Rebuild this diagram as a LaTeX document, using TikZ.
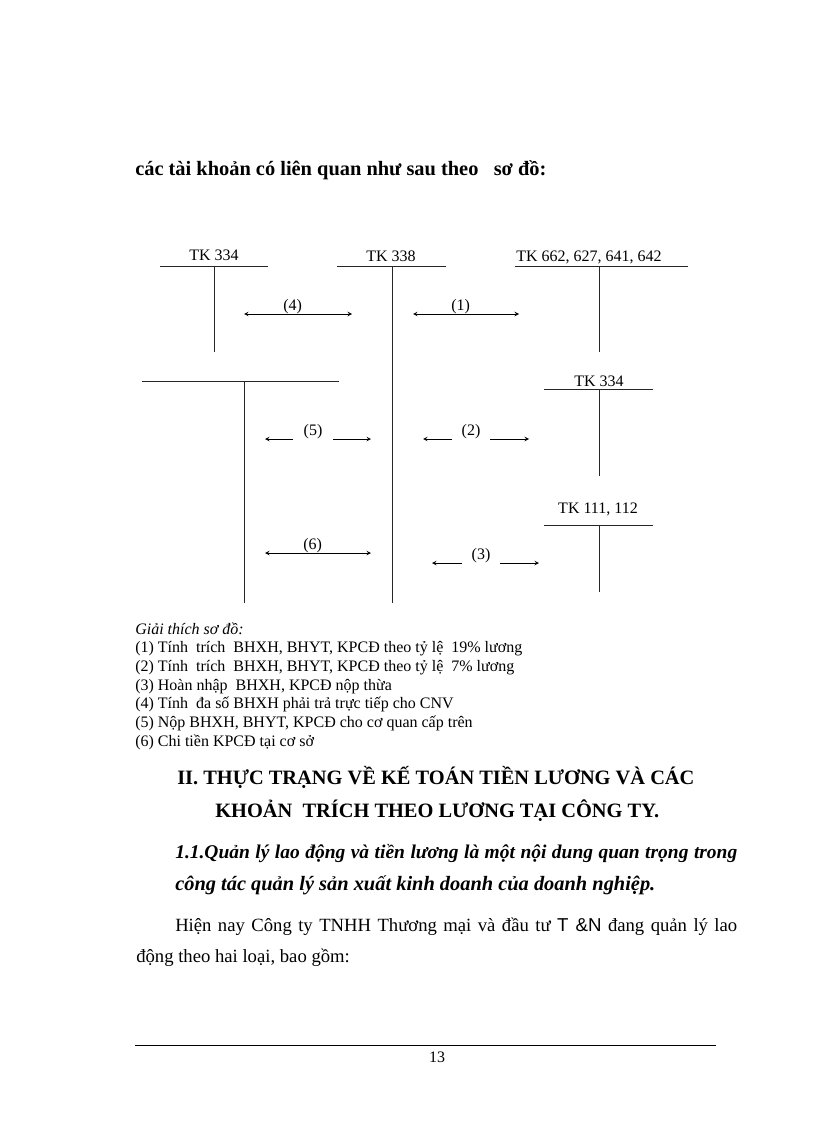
\documentclass[tikz,border=0pt]{standalone}
\usepackage{fontspec}
\setmainfont{Liberation Serif}
\newfontfamily\arialfont{Liberation Sans}
\usetikzlibrary{positioning, arrows}
\tikzset{
    >=stealth, % small arrow heads
    tkline/.style={line width=0.6pt, black!85}, % lines of the T accounts
    flow/.style={line width=0.5pt}, % entries between accounts
    tkname/.style={font=\fontsize{12}{14}\selectfont, anchor=base, inner sep=0pt},
    num/.style={font=\fontsize{12}{14}\selectfont, inner sep=0pt},
    bodytext/.style={font=\fontsize{14}{17}\selectfont, anchor=base west, inner sep=0pt},
    boldtext/.style={font=\fontsize{15.3}{18}\selectfont\bfseries, anchor=base west, inner sep=0pt},
    legend/.style={font=\fontsize{12}{14}\selectfont, anchor=base west, inner sep=0pt},
}

\begin{document}
\begin{tikzpicture}[x=0.75pt, y=-0.75pt]
        \useasboundingbox (0,0) rectangle (816,1123);
        % Title
        \node[boldtext] (title) at (135,176) {các tài khoản có liên quan như sau theo \ \ sơ đồ:};

        % T accounts
        \node[tkname] (tkA) at (214,260) {TK 334};
        \node[tkname] (tkB) at (391,261) {TK 338};
        \node[tkname] (tkC) at (589,262) {TK 662, 627, 641, 642};
        \node[tkname] (tkE) at (599,386) {TK 334};
        \node[tkname] (tkF) at (598,513) {TK 111, 112};

        \coordinate (Al) at (160,266); \coordinate (Ar) at (268,266);
        \coordinate (At) at (214,266); \coordinate (Ab) at (214,352);
        \coordinate (Bl) at (337,266); \coordinate (Br) at (446,266);
        \coordinate (Bt) at (392,266); \coordinate (Bb) at (392,603);
        \coordinate (Cl) at (515,266); \coordinate (Cr) at (688,266);
        \coordinate (Ct) at (599,266); \coordinate (Cb) at (599,352);
        \coordinate (Dl) at (142,381); \coordinate (Dr) at (339,381);
        \coordinate (Dt) at (244,381); \coordinate (Db) at (244,603);
        \coordinate (El) at (544,389); \coordinate (Er) at (653,389);
        \coordinate (Et) at (599,389); \coordinate (Eb) at (599,476);
        \coordinate (Fl) at (544,525); \coordinate (Fr) at (653,525);
        \coordinate (Ft) at (599,525); \coordinate (Fb) at (599,592);

        \draw[tkline]
            (Al) -- (Ar) (At) -- (Ab)
            (Bl) -- (Br) (Bt) -- (Bb)
            (Cl) -- (Cr) (Ct) -- (Cb)
            (Dl) -- (Dr) (Dt) -- (Db)
            (El) -- (Er) (Et) -- (Eb)
            (Fl) -- (Fr) (Ft) -- (Fb)
        ;

        % Entries
        \coordinate (e4l) at (244,314); \coordinate (e4r) at (352,314);
        \coordinate (e1l) at (413,314); \coordinate (e1r) at (519,314);
        \coordinate (e6l) at (265,553); \coordinate (e6r) at (371,553);
        \coordinate (e5l) at (265,439); \coordinate (e5a) at (293,439);
        \coordinate (e5b) at (333,439); \coordinate (e5r) at (371,439);
        \coordinate (e2l) at (423,439); \coordinate (e2a) at (452,439);
        \coordinate (e2b) at (490,439); \coordinate (e2r) at (529,439);
        \coordinate (e3l) at (432,563); \coordinate (e3a) at (462,563);
        \coordinate (e3b) at (500,563); \coordinate (e3r) at (539,563);

        \draw[flow, <->] (e4l) -- node[num, above, pos=0.45] (n4) {(4)} (e4r);
        \draw[flow, <->] (e1l) -- node[num, above, pos=0.45] (n1) {(1)} (e1r);
        \draw[flow, <->] (e6l) -- node[num, above, pos=0.45] (n6) {(6)} (e6r);
        \draw[flow]
            (e5a) edge[->] (e5l)
            (e5b) edge[->] (e5r)
            (e2a) edge[->] (e2l)
            (e2b) edge[->] (e2r)
            (e3a) edge[->] (e3l)
            (e3b) edge[->] (e3r)
        ;
        \path (e5a) -- node[num, above] (n5) {(5)} (e5b);
        \path (e2a) -- node[num, above] (n2) {(2)} (e2b);
        \path (e3a) -- node[num, above] (n3) {(3)} (e3b);

        % Legend
        \foreach \txt [count=\i from 0] in {
            {\itshape Giải thích sơ đồ:},
            {(1) Tính \ trích \ BHXH, BHYT, KPCĐ theo tỷ lệ \ 19\% lương},
            {(2) Tính \ trích \ BHXH, BHYT, KPCĐ theo tỷ lệ \ 7\% lương},
            {(3) Hoàn nhập \ BHXH, KPCĐ nộp thừa},
            {(4) Tính \ đa số BHXH phải trả trực tiếp cho CNV},
            {(5) Nộp BHXH, BHYT, KPCĐ cho cơ quan cấp trên},
            {(6) Chi tiền KPCĐ tại cơ sở}}
            \node[legend] (leg\i) at (135,634+18.7*\i) {\txt};

        % Text below
        \node[boldtext] (head1) at (177,784) {II. THỰC TRẠNG VỀ KẾ TOÁN TIỀN LƯƠNG VÀ CÁC};
        \node[boldtext] (head2) at (215,817) {KHOẢN \ TRÍCH THEO LƯƠNG TẠI CÔNG TY.};
        \node[boldtext, font=\fontsize{14.6}{18}\selectfont\bfseries\itshape] (sub1) at (175,858) {\makebox[421.5pt][s]{1.1.Quản lý lao động và tiền lương là một nội dung quan trọng trong}};
        \node[boldtext, font=\fontsize{15.3}{18}\selectfont\bfseries\itshape] (sub2) at (175,890) {công tác quản lý sản xuất kinh doanh của doanh nghiệp.};
        \node[bodytext] (par1) at (175,931) {\makebox[421.5pt][s]{Hiện nay Công ty TNHH Thương mại và đầu tư {\arialfont T \&N} đang quản lý lao}};
        \node[bodytext] (par2) at (136,962) {động theo hai loại, bao gồm:};

        % Footer
        \coordinate (footl) at (135,1045); \coordinate (footr) at (716,1045);
        \draw[line width=0.5pt] (footl) -- (footr);
        \node[num, anchor=base] (page) at (437,1062) {13};
    \end{tikzpicture}
\end{document}
